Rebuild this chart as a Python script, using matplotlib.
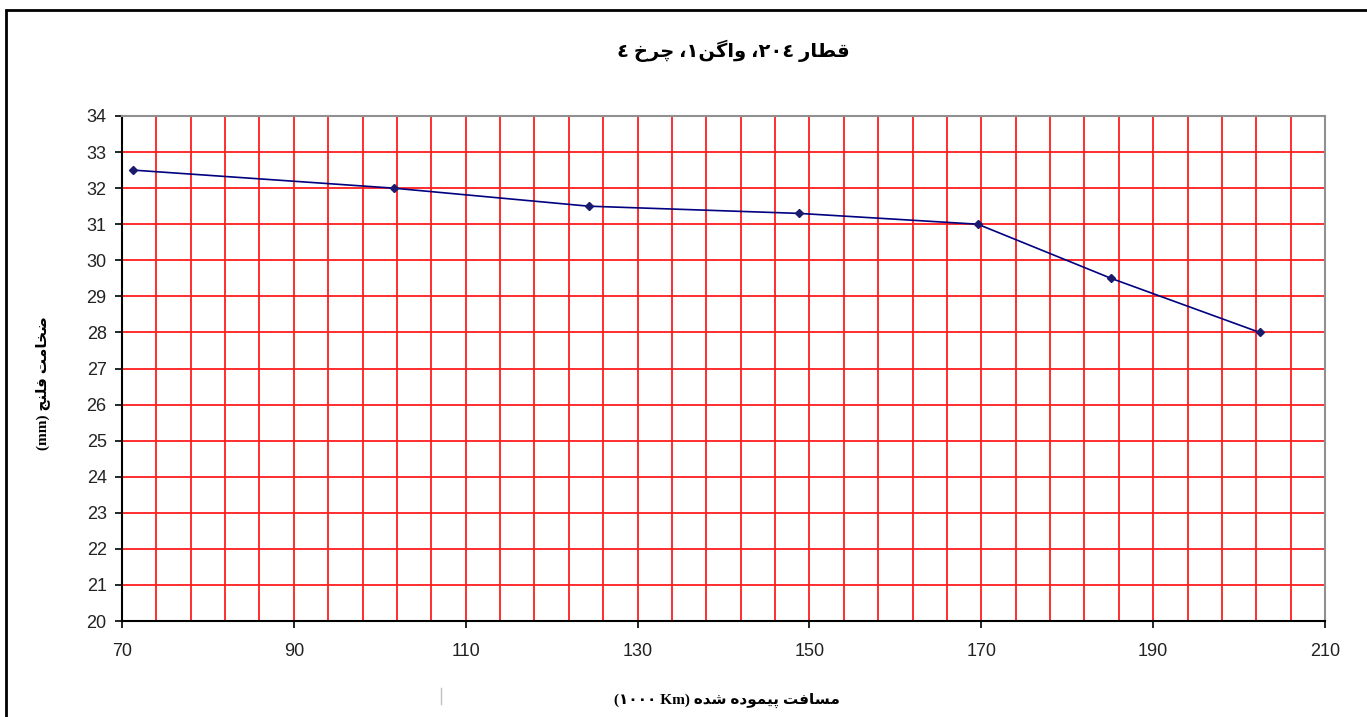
import re
import matplotlib
matplotlib.use('Agg')
import matplotlib.pyplot as plt
from matplotlib.ticker import MultipleLocator
from matplotlib.patches import Rectangle
from matplotlib.lines import Line2D

# values
distance = [71.3, 101.6, 124.3, 148.8, 169.6, 185.1, 202.4]   # 1000 km
flange = [32.5, 32.0, 31.5, 31.3, 31.0, 29.5, 28.0]           # mm

x_ticks = [70, 90, 110, 130, 150, 170, 190, 210]
y_ticks = list(range(20, 35))

title_txt = "قطار ٢٠٤، واگن١، چرخ ٤"
xlabel_txt = "مسافت پیموده شده (Km ١٠٠٠)"
ylabel_txt = "ضخامت فلنج (mm)"

# matplotlib has no arabic shaping, so pick presentation forms by hand
# (isolated, final, initial, medial)
FORMS = {
    'ا': ('\uFE8D', '\uFE8E', None, None),
    'ت': ('\uFE95', '\uFE96', '\uFE97', '\uFE98'),
    'ج': ('\uFE9D', '\uFE9E', '\uFE9F', '\uFEA0'),
    'خ': ('\uFEA5', '\uFEA6', '\uFEA7', '\uFEA8'),
    'د': ('\uFEA9', '\uFEAA', None, None),
    'ر': ('\uFEAD', '\uFEAE', None, None),
    'س': ('\uFEB1', '\uFEB2', '\uFEB3', '\uFEB4'),
    'ش': ('\uFEB5', '\uFEB6', '\uFEB7', '\uFEB8'),
    'ض': ('\uFEBD', '\uFEBE', '\uFEBF', '\uFEC0'),
    'ط': ('\uFEC1', '\uFEC2', '\uFEC3', '\uFEC4'),
    'ف': ('\uFED1', '\uFED2', '\uFED3', '\uFED4'),
    'ق': ('\uFED5', '\uFED6', '\uFED7', '\uFED8'),
    'ل': ('\uFEDD', '\uFEDE', '\uFEDF', '\uFEE0'),
    'م': ('\uFEE1', '\uFEE2', '\uFEE3', '\uFEE4'),
    'ن': ('\uFEE5', '\uFEE6', '\uFEE7', '\uFEE8'),
    'ه': ('\uFEE9', '\uFEEA', '\uFEEB', '\uFEEC'),
    'و': ('\uFEED', '\uFEEE', None, None),
    'ی': ('\uFBFC', '\uFBFD', '\uFBFE', '\uFBFF'),
    'پ': ('\uFB56', '\uFB57', '\uFB58', '\uFB59'),
    'چ': ('\uFB7A', '\uFB7B', '\uFB7C', '\uFB7D'),
    'گ': ('\uFB92', '\uFB93', '\uFB94', '\uFB95'),
}
MIRROR = {'(': ')', ')': '('}


def shape(word):
    out = []
    for i, ch in enumerate(word):
        f = FORMS.get(ch)
        if f is None:
            out.append(ch)
            continue
        prev_j = i > 0 and word[i - 1] in FORMS and FORMS[word[i - 1]][2] is not None
        next_j = i < len(word) - 1 and word[i + 1] in FORMS and f[2] is not None
        if prev_j and next_j:
            out.append(f[3])
        elif prev_j:
            out.append(f[1])
        elif next_j:
            out.append(f[2])
        else:
            out.append(f[0])
    return ''.join(out)


def rtl(text):
    toks = re.findall(r'[\u0621-\u064A\u067E\u0686\u06AF\u06CC]+|[0-9\u0660-\u0669]+|[A-Za-z]+|.', text)
    vis = []
    for t in reversed(toks):
        if t[0] in FORMS:
            vis.append(shape(t)[::-1])
        else:
            vis.append(MIRROR.get(t, t))
    return ''.join(vis)


FA = ['Liberation Serif', 'DejaVu Sans']
W, H = 1367, 717

fig = plt.figure(figsize=(W / 100, H / 100), dpi=100)
ax = fig.add_axes([122 / W, 1 - 621 / H, (1325 - 122) / W, (621 - 116) / H])

ax.plot(distance, flange, color='#000080', lw=1.2, marker='D', ms=4.5,
        mfc='#1a1a6e', mec='#1a1a6e', zorder=4)

ax.set_xlim(70, 210)
ax.set_ylim(20, 34)
ax.set_xticks(x_ticks)
ax.set_yticks(y_ticks)
# vertical grid every 4 units, starting at 74
ax.xaxis.set_minor_locator(MultipleLocator(4, offset=2))
ax.grid(True, which='both', axis='x', color='#ff1e1e', lw=1.3)
ax.grid(True, which='major', axis='y', color='#ff1e1e', lw=1.3)
ax.set_axisbelow(True)
ax.tick_params(axis='x', which='minor', length=0)
ax.tick_params(axis='both', which='major', direction='out', length=5, width=1.2,
               color='black', labelsize=13, labelcolor='#222222')
ax.tick_params(axis='x', which='major', pad=11)
ax.tick_params(axis='y', which='major', pad=6)
for lab in ax.get_xticklabels() + ax.get_yticklabels():
    lab.set_family('Liberation Sans')

for s in ('left', 'bottom'):
    ax.spines[s].set_color('black')
    ax.spines[s].set_linewidth(1.5)
for s in ('top', 'right'):
    ax.spines[s].set_color('#909090')
    ax.spines[s].set_linewidth(1.5)

fig.text(733 / W, 1 - 51 / H, rtl(title_txt), family=FA, fontweight='bold',
         fontsize=14, ha='center', va='center')
fig.text(727 / W, 1 - 700 / H, rtl(xlabel_txt), family=FA, fontweight='bold',
         fontsize=11, ha='center', va='center')
fig.text(43 / W, 1 - 383 / H, rtl(ylabel_txt), family=FA, fontweight='bold',
         fontsize=11, ha='center', va='center', rotation=90)

# outer chart frame (runs off the right and bottom edges)
fig.patches.append(Rectangle((6 / W, -0.05), 1.1, 1 - 10 / H + 0.05,
                             transform=fig.transFigure, fill=False,
                             ec='black', lw=2))
# stray grey mark under the axis
fig.lines.append(Line2D([441 / W, 441 / W], [1 - 688 / H, 1 - 704 / H],
                        transform=fig.transFigure, color='#c0c0c0', lw=1))

fig.savefig('out.png', dpi=100, facecolor='white')
